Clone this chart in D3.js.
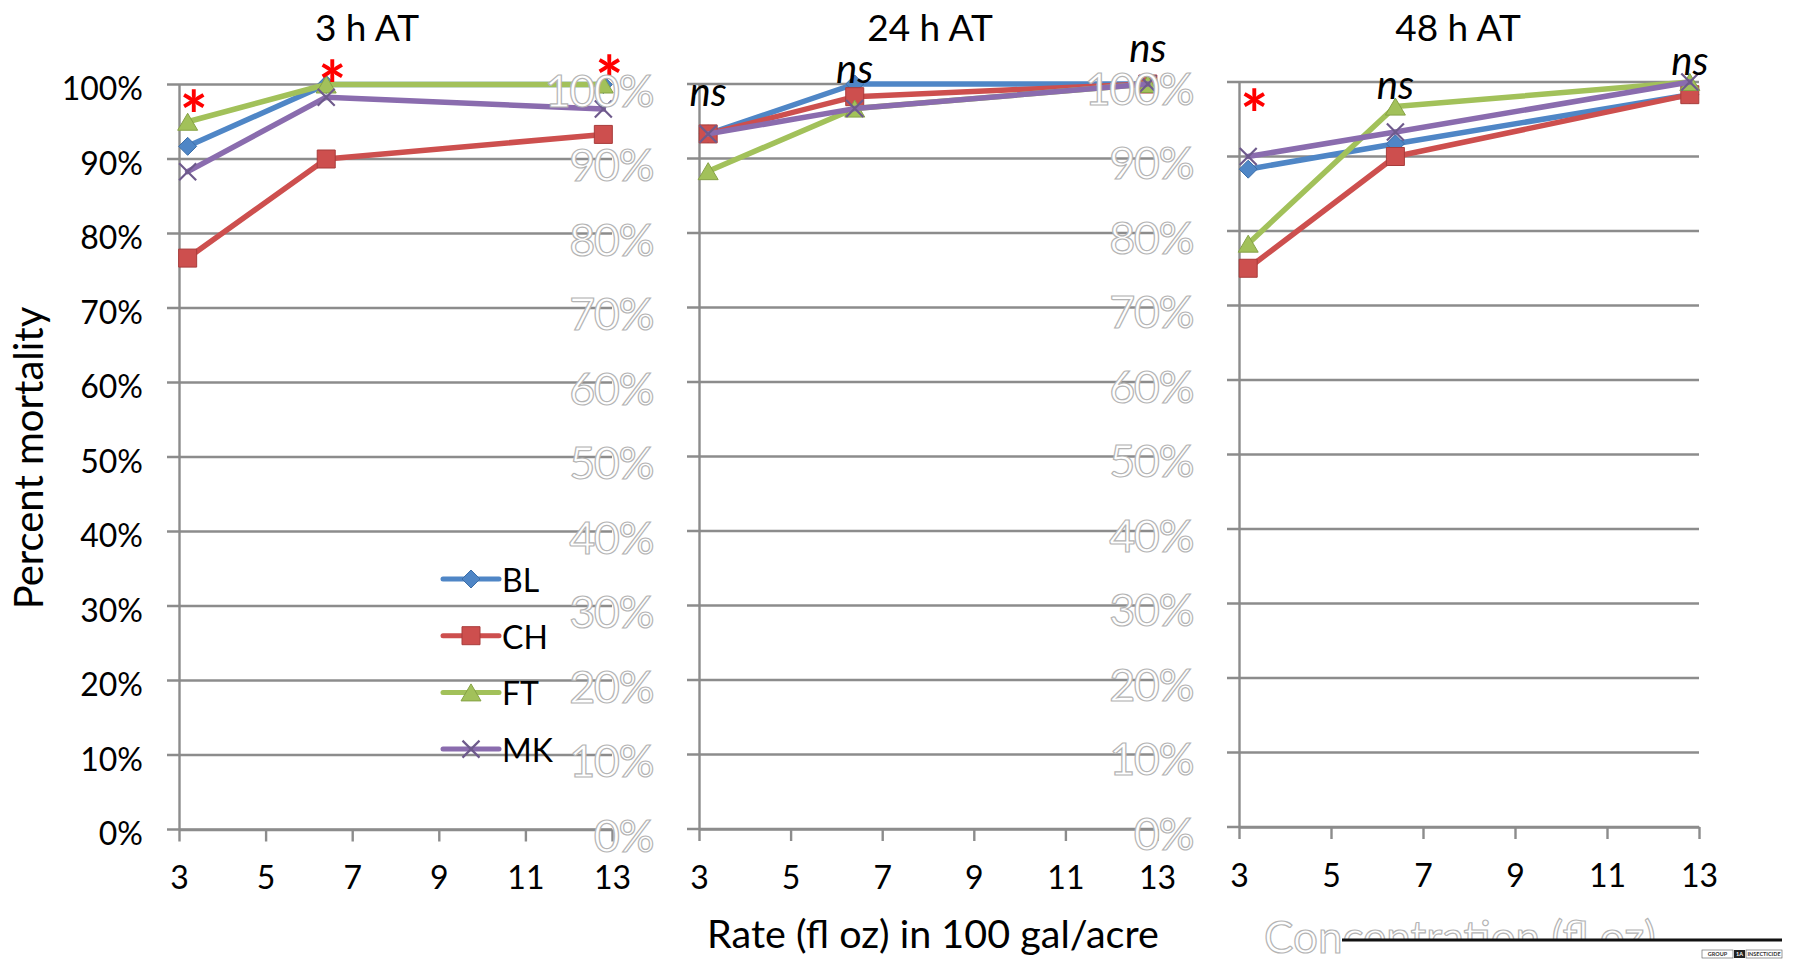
<!DOCTYPE html>
<html>
<head>
<meta charset="utf-8">
<script src="https://cdn.jsdelivr.net/npm/d3@7"></script>
<style>
  html, body { margin: 0; padding: 0; background: #fff; }
  svg { display: block; font-family: Lato, "Open Sans", sans-serif; }
</style>
</head>
<body>
<svg id="chart" width="1797" height="965"></svg>
<script>
// Application rates (fl oz in 100 gal/acre)
const rates = [3.2, 6.4, 12.8];
const seriesNames = ["BL", "CH", "FT", "MK"];
const panelTitles = ["3 h AT", "24 h AT", "48 h AT"];
const xTickValues = [3, 5, 7, 9, 11, 13];
const yTickValues = [0, 10, 20, 30, 40, 50, 60, 70, 80, 90, 100];

// Percent mortality, 3 h after treatment
const bl3h = [91.7, 100, 100];
const ch3h = [76.7, 90.0, 93.3];
const ft3h = [95.0, 100, 100];
const mk3h = [88.3, 98.3, 96.7];

// Percent mortality, 24 h after treatment
const bl24h = [93.3, 100, 100];
const ch24h = [93.3, 98.3, 100];
const ft24h = [88.3, 96.7, 100];
const mk24h = [93.3, 96.7, 100];

// Percent mortality, 48 h after treatment
const bl48h = [88.3, 91.7, 98.3];
const ch48h = [75.0, 90.0, 98.3];
const ft48h = [78.3, 96.7, 100];
const mk48h = [90.0, 93.3, 100];

// Significance marks at each rate and the mortality level they are written at
const sig3h = ["*", "*", "*"];
const sig3hLevel = [97.8, 101.9, 102.6];
const sig24h = ["ns", "ns", "ns"];
const sig24hLevel = [98.4, 101.5, 104.4];
const sig48h = ["*", "ns", "ns"];
const sig48hLevel = [97.7, 99.1, 102.4];

// ---- styling ----
const colors = { BL: "#4f86c6", CH: "#cd4f4e", FT: "#a2c15a", MK: "#8a6cae" };
const edge   = { BL: "#3c6ea8", CH: "#a83c3b", FT: "#86a246", MK: "#6a5190" };
const gridColor = "#8c8c8c";

const panelData = [
  { title: panelTitles[0], series: { BL: bl3h, CH: ch3h, FT: ft3h, MK: mk3h }, sig: sig3h, sigLevel: sig3hLevel },
  { title: panelTitles[1], series: { BL: bl24h, CH: ch24h, FT: ft24h, MK: mk24h }, sig: sig24h, sigLevel: sig24hLevel },
  { title: panelTitles[2], series: { BL: bl48h, CH: ch48h, FT: ft48h, MK: mk48h }, sig: sig48h, sigLevel: sig48hLevel }
];

// plot-area frames of the three small multiples
const frames = [
  { left: 179, right: 612, top: 84.5, bottom: 829.5, titleX: 367, labels: "solid" },
  { left: 699, right: 1157, top: 84, bottom: 829, titleX: 930, labels: "outline" },
  { left: 1239, right: 1699, top: 82, bottom: 827, titleX: 1458, labels: "outline" }
];

const svg = d3.select("#chart");

function markerPath(name) {
  const p = d3.path();
  if (name === "BL") {           // diamond
    const r = 9;
    p.moveTo(0, -r); p.lineTo(r, 0); p.lineTo(0, r); p.lineTo(-r, 0); p.closePath();
  } else if (name === "CH") {    // square
    const r = 9;
    p.rect(-r, -r, 2 * r, 2 * r);
  } else if (name === "FT") {    // triangle
    const w = 10, h = 8.5;
    p.moveTo(0, -h); p.lineTo(w, h); p.lineTo(-w, h); p.closePath();
  } else {                        // x
    const r = 8.5;
    p.moveTo(-r, -r); p.lineTo(r, r); p.moveTo(r, -r); p.lineTo(-r, r);
  }
  return p.toString();
}

function drawMarker(g, name, x, y) {
  if (name === "MK") {
    g.append("path").attr("d", markerPath(name))
      .attr("transform", `translate(${x},${y})`)
      .attr("fill", "none").attr("stroke", "#6e5a8c").attr("stroke-width", 2.2);
  } else {
    g.append("path").attr("d", markerPath(name))
      .attr("transform", `translate(${x},${y})`)
      .attr("fill", colors[name]).attr("stroke", edge[name]).attr("stroke-width", 1);
  }
}

panelData.forEach((pd, i) => {
  const f = frames[i];
  const x = d3.scaleLinear().domain([3, 13]).range([f.left, f.right]);
  const y = d3.scaleLinear().domain([0, 100]).range([f.bottom, f.top]);
  const g = svg.append("g");

  // horizontal gridlines (they reach past the axis as outside tick marks)
  g.append("g").selectAll("line").data(yTickValues).join("line")
    .attr("x1", f.left - 12).attr("x2", f.right)
    .attr("y1", d => y(d)).attr("y2", d => y(d))
    .attr("stroke", gridColor).attr("stroke-width", 2.4);

  // y axis
  const solid = f.labels === "solid";
  const yAxis = g.append("g").attr("transform", `translate(${f.left},0)`)
    .call(d3.axisLeft(y).tickValues(yTickValues).tickSize(12).tickSizeOuter(0)
      .tickPadding(solid ? 24 : 34).tickFormat(d => d + "%"));
  yAxis.select(".domain").attr("stroke", gridColor).attr("stroke-width", 2.4);
  yAxis.selectAll(".tick line").attr("stroke", "none");
  const yt = yAxis.selectAll(".tick text").attr("font-family", "Lato, sans-serif");
  if (solid) {
    yt.attr("font-size", 32).attr("fill", "#000").attr("dy", "0.48em");
  } else {
    yt.attr("font-size", 45).attr("fill", "#fff").attr("stroke", "#b4b4b4")
      .attr("stroke-width", 1.2).attr("dy", "0.49em")
      .attr("letter-spacing", -1.5);
  }

  // x axis
  const xAxis = g.append("g").attr("transform", `translate(0,${f.bottom})`)
    .call(d3.axisBottom(x).tickValues(xTickValues).tickSize(12).tickSizeOuter(0).tickPadding(25));
  xAxis.select(".domain").attr("stroke", gridColor).attr("stroke-width", 2.4);
  xAxis.selectAll(".tick line").attr("stroke", gridColor).attr("stroke-width", 2.4);
  xAxis.selectAll(".tick text").attr("font-family", "Lato, sans-serif")
    .attr("font-size", 32).attr("fill", "#000");

  // panel title
  svg.append("text").attr("x", f.titleX).attr("y", 41)
    .attr("text-anchor", "middle").attr("font-size", 37).attr("fill", "#000")
    .text(pd.title);

  // series lines then markers
  const line = d3.line().x((d, k) => x(rates[k])).y(d => y(d));
  seriesNames.forEach(name => {
    const vals = pd.series[name];
    g.append("path").datum(vals).attr("d", line)
      .attr("fill", "none").attr("stroke", colors[name]).attr("stroke-width", 5.5)
      .attr("stroke-linejoin", "round").attr("stroke-linecap", "round");
    vals.forEach((v, k) => drawMarker(g, name, x(rates[k]), y(v)));
  });

  // significance marks
  pd.sig.forEach((s, k) => {
    const cx = x(rates[k]), cy = y(pd.sigLevel[k]);
    if (s === "*") {
      const fs = 66;
      svg.append("text").attr("x", cx + 6).attr("y", cy + 0.6 * fs)
        .attr("text-anchor", "middle").attr("font-size", fs).attr("font-weight", 700)
        .attr("fill", "#ff0000").text(s);
    } else {
      const fs = 40;
      svg.append("text").attr("x", cx).attr("y", cy + 0.26 * fs)
        .attr("text-anchor", "middle").attr("font-size", fs).attr("font-style", "italic")
        .attr("fill", "#000").text(s);
    }
  });
});

// legend inside the first panel
const legend = svg.append("g");
seriesNames.forEach((name, i) => {
  const ry = 579 + i * 56.7;
  legend.append("line").attr("x1", 443).attr("x2", 499).attr("y1", ry).attr("y2", ry)
    .attr("stroke", colors[name]).attr("stroke-width", 5).attr("stroke-linecap", "round");
  drawMarker(legend, name, 471, ry);
  legend.append("text").attr("x", 502).attr("y", ry + 13)
    .attr("font-size", 32).attr("fill", "#000").text(name);
});

// axis titles
svg.append("text").attr("x", 933).attr("y", 948).attr("text-anchor", "middle")
  .attr("font-size", 39.5).attr("fill", "#000").text("Rate (fl oz) in 100 gal/acre");
svg.append("text").attr("transform", "translate(43,458) rotate(-90)")
  .attr("text-anchor", "middle").attr("font-size", 40).attr("fill", "#000")
  .text("Percent mortality");

// faint outlined axis title beneath the last panel
svg.append("text").attr("x", 1264).attr("y", 953)
  .attr("font-size", 44).attr("fill", "#fff").attr("stroke", "#b4b4b4").attr("stroke-width", 1.2)
  .text("Concentration (fl oz)");

// footer band with rule and badge
svg.append("rect").attr("x", 1342).attr("y", 941).attr("width", 455).attr("height", 24).attr("fill", "#fff");
svg.append("line").attr("x1", 1342).attr("x2", 1782).attr("y1", 940).attr("y2", 940)
  .attr("stroke", "#111").attr("stroke-width", 3);
const badge = svg.append("g").attr("font-size", 5.5).attr("font-weight", 700);
badge.append("rect").attr("x", 1702).attr("y", 950).attr("width", 31).attr("height", 8)
  .attr("fill", "#fff").attr("stroke", "#555").attr("stroke-width", 0.6);
badge.append("text").attr("x", 1717.5).attr("y", 956).attr("text-anchor", "middle").attr("fill", "#333").text("GROUP");
badge.append("rect").attr("x", 1734).attr("y", 950).attr("width", 11).attr("height", 8).attr("fill", "#222");
badge.append("text").attr("x", 1739.5).attr("y", 956).attr("text-anchor", "middle").attr("fill", "#fff").text("1A");
badge.append("rect").attr("x", 1746).attr("y", 950).attr("width", 36).attr("height", 8)
  .attr("fill", "#fff").attr("stroke", "#555").attr("stroke-width", 0.6);
badge.append("text").attr("x", 1764).attr("y", 956).attr("text-anchor", "middle").attr("fill", "#333").text("INSECTICIDE");
</script>
</body>
</html>
